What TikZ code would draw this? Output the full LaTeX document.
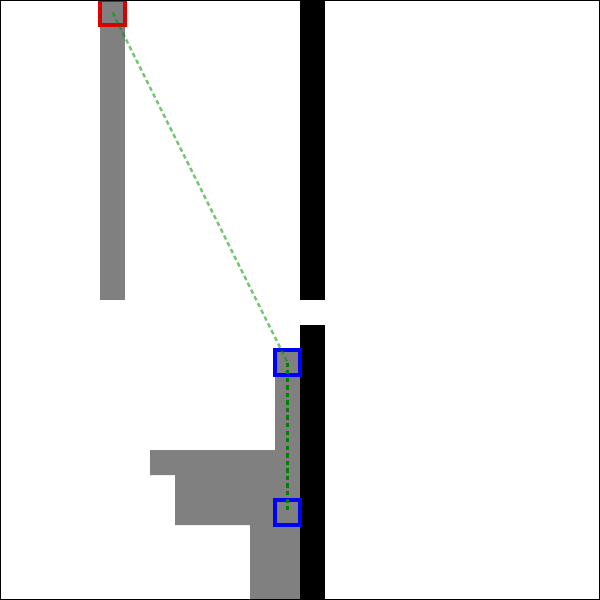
\documentclass[tikz,border=0pt]{standalone}
\begin{document}
\begin{tikzpicture}[x=1cm,y=-1cm,
  cellbox/.style={draw, line width=4.2pt, minimum size=1cm, inner sep=0pt, outer sep=0pt},
  wall/.style={fill=black},
  area/.style={fill=gray},
  pathlink/.style={line width=2.8pt, dash pattern=on 5pt off 3.6pt}]
\useasboundingbox (0,0) rectangle (24,24);
\fill[white] (0,0) rectangle (24,24);
% gray regions
\fill[area] (4,0) rectangle (5,12);
\fill[area] (11,14) -- (12,14) -- (12,24) -- (10,24) -- (10,21) -- (7,21) -- (7,19) -- (6,19) -- (6,18) -- (11,18) -- cycle;
% walls
\fill[wall] (12,0) rectangle (13,12);
\fill[wall] (12,13) rectangle (13,24);
% boxes
\node[cellbox, draw=red!85!black] (start) at (4.5,0.5) {};
\node[cellbox, draw=blue] (b1) at (11.5,14.5) {};
\node[cellbox, draw=blue] (b2) at (11.5,20.5) {};
% links
\draw[pathlink, color=green!60!black, opacity=0.55] (start.center) -- (b1.center);
\draw[pathlink, color=green!50!black] (b1.center) -- (b2.center);
% frame
\draw[line width=1.8pt] (0,0) rectangle (24,24);
\end{tikzpicture}
\end{document}
